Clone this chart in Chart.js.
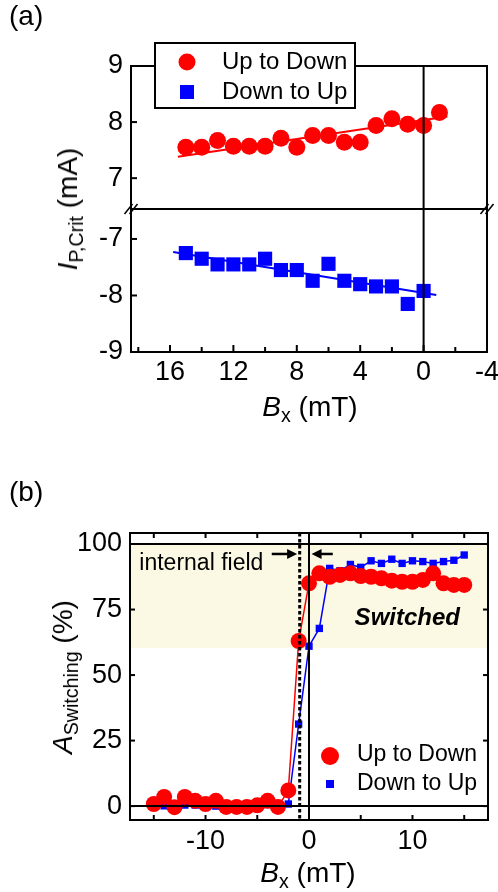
<!DOCTYPE html>
<html>
<head>
<meta charset="utf-8">
<script src="https://cdn.jsdelivr.net/npm/chart.js@4.4.0/dist/chart.umd.min.js"></script>
<style>
  html, body { margin: 0; padding: 0; background: #fff; }
  #wrap { position: relative; width: 498px; height: 892px;
          font-family: 'Liberation Sans', Arial, sans-serif; color: #000; }
  #chartA { display: block; }
  #chartB { position: absolute; left: 0; top: 440px; }
  .lbl { position: absolute; font-size: 28px; line-height: 1; white-space: nowrap; }
  .lbl sub { font-size: 0.7em; vertical-align: -0.3em; line-height: 0; }
  .ctr { transform: translate(-50%, -50%); }
  .rot { transform: translate(-50%, -50%) rotate(-90deg); }
</style>
</head>
<body>
<div id="wrap">
  <canvas id="chartA" width="498" height="430"></canvas>
  <canvas id="chartB" width="498" height="452"></canvas>
  <div class="lbl" style="left:9px;top:2px">(a)</div>
  <div class="lbl" style="left:9px;top:478px">(b)</div>
  <div class="lbl rot" style="left:68px;top:209px"><i>I</i><sub>P,Crit</sub> (mA)</div>
  <div class="lbl ctr" style="left:310px;top:407px"><i>B</i><sub>x</sub> (mT)</div>
  <div class="lbl rot" style="left:63px;top:677px"><i>A</i><sub>Switching</sub> (%)</div>
  <div class="lbl ctr" style="left:308px;top:873px"><i>B</i><sub>x</sub> (mT)</div>
</div>
<script>
// ---- panel (a): critical current vs Bx ----
const bxUpA   = [15, 14, 13, 12, 11, 10, 9, 8, 7, 6, 5, 4, 3, 2, 1, 0, -1];
const iUpA    = [7.55, 7.55, 7.67, 7.57, 7.57, 7.57, 7.71, 7.55, 7.76, 7.76, 7.64, 7.64, 7.94, 8.06, 7.96, 7.94, 8.17];
const bxDownA = [15, 14, 13, 12, 11, 10, 9, 8, 7, 6, 5, 4, 3, 2, 1, 0];
const iDownA  = [-7.25, -7.35, -7.45, -7.45, -7.45, -7.35, -7.55, -7.55, -7.74, -7.44, -7.74, -7.80, -7.84, -7.84, -8.15, -7.92];
const fitUpX = [15.5, -1.5], fitUpY = [7.38, 8.10];
const fitDownX = [15.8, -0.8], fitDownY = [-7.23, -7.99];
const xTicksA = [16, 12, 8, 4, 0, -4];
const xMinorA = [18, 14, 10, 6, 2, -2];
const yTicksTopA = [7, 8, 9];
const yTicksBotA = [-9, -8, -7];

// ---- panel (b): switching amplitude vs Bx ----
const bxB = [-15, -14, -13, -12, -11, -10, -9, -8, -7, -6, -5, -4, -3, -2, -1,
             0, 1, 2, 3, 4, 5, 6, 7, 8, 9, 10, 11, 12, 13, 14, 15];
const upB = [0.8, 3.5, -0.4, 3.5, 2, 0.8, 2, -0.3, -0.3, -0.3, 0.3, 2, -0.3, 6, 63,
             85, 88.8, 87.5, 88.2, 88.8, 87.8, 87.5, 86.9, 86.0, 85.6, 85.6, 86.3, 88.8, 85.0, 84.4, 84.4];
const downB = [0.1, 0.1, 0.4, 0.4, 0.4, 1.6, 0, 0.4, 0.6, 0.4, 1.3, 0.6, 1.0, 0.8, 31.3,
               61, 67.8, 90.7, 89.8, 92.2, 91.1, 93.6, 92.6, 94.2, 92.6, 93.6, 93.3, 92.6, 93.3, 93.8, 95.8];
const xTicksB = [-10, 0, 10];
const xMarksB = [-15, -10, -5, 0, 5, 10, 15];
const yTicksB = [0, 25, 50, 75, 100];
const bandB = [60.3, 100];      // "Switched" shaded range
const internalField = -0.9;

Chart.defaults.font.family = "'Liberation Sans', Arial, sans-serif";
Chart.defaults.color = '#000';

const pts = (xs, ys) => xs.map((x, i) => ({ x: x, y: ys[i] }));
function seg(ctx, x1, y1, x2, y2) {
  ctx.beginPath(); ctx.moveTo(x1, y1); ctx.lineTo(x2, y2); ctx.stroke();
}
function noPad(s) { s.paddingLeft = 0; s.paddingRight = 0; s.paddingTop = 0; s.paddingBottom = 0; }
function arrow(ctx, x1, x2, y) {
  const dir = x2 > x1 ? 1 : -1;
  ctx.lineWidth = 2.5;
  seg(ctx, x1, y, x2 - dir * 8, y);
  ctx.beginPath();
  ctx.moveTo(x2, y); ctx.lineTo(x2 - dir * 10, y - 5); ctx.lineTo(x2 - dir * 10, y + 5);
  ctx.closePath(); ctx.fill();
}

const panelA = {
  id: 'panelA',
  afterDraw(chart) {
    const ctx = chart.ctx;
    const x = chart.scales.x, yTop = chart.scales.yTop, yBot = chart.scales.yBot;
    const a = chart.chartArea;
    const L = a.left, R = a.right, T = a.top, B = a.bottom;
    const yb = yTop.bottom;
    ctx.save();
    ctx.fillStyle = '#000';
    ctx.strokeStyle = '#000';
    ctx.lineWidth = 2;
    ctx.strokeRect(L, T, R - L, B - T);
    const x0 = x.getPixelForValue(0);
    seg(ctx, x0, T, x0, B);
    seg(ctx, L, yb, R, yb);
    for (const v of xTicksA) { const p = x.getPixelForValue(v); ctx.fillRect(p - 1, B - 7, 2, 7); }
    for (const v of xMinorA) { const p = x.getPixelForValue(v); ctx.fillRect(p - 1, B - 5, 2, 5); }
    for (const v of yTicksTopA) { const p = yTop.getPixelForValue(v); ctx.fillRect(L, p - 1, 6, 2); }
    for (const v of yTicksBotA) { const p = yBot.getPixelForValue(v); ctx.fillRect(L, p - 1, 6, 2); }
    // axis break marks
    ctx.lineWidth = 1.5;
    for (const cx of [L, R]) {
      for (const d of [-2.5, 2.5]) seg(ctx, cx + d - 4, yb + 5, cx + d + 4, yb - 5);
    }
    // legend box
    const ds = chart.data.datasets;
    const lx = L + 24, ly = T - 23;
    ctx.fillStyle = '#fff';
    ctx.fillRect(lx, ly, 200, 65);
    ctx.lineWidth = 2;
    ctx.strokeRect(lx, ly, 200, 65);
    ctx.fillStyle = ds[2].backgroundColor;
    ctx.beginPath(); ctx.arc(lx + 32, ly + 19, 8.5, 0, Math.PI * 2); ctx.fill();
    ctx.fillStyle = ds[3].backgroundColor;
    ctx.fillRect(lx + 25, ly + 42, 14, 14);
    ctx.fillStyle = '#000';
    ctx.font = "24px 'Liberation Sans', Arial, sans-serif";
    ctx.textBaseline = 'middle';
    ctx.fillText(ds[2].label, lx + 67, ly + 19);
    ctx.fillText(ds[3].label, lx + 67, ly + 49);
    ctx.restore();
  }
};

new Chart(document.getElementById('chartA'), {
  type: 'scatter',
  data: {
    datasets: [
      { label: 'fit up', data: pts(fitUpX, fitUpY), showLine: true, borderColor: '#ff0000',
        borderWidth: 2, pointRadius: 0, yAxisID: 'yTop', clip: false },
      { label: 'fit down', data: pts(fitDownX, fitDownY), showLine: true, borderColor: '#0000ff',
        borderWidth: 2, pointRadius: 0, yAxisID: 'yBot', clip: false },
      { label: 'Up to Down', data: pts(bxUpA, iUpA), pointStyle: 'circle', pointRadius: 8.5,
        backgroundColor: '#ff0000', borderColor: '#ff0000', pointBorderWidth: 0, yAxisID: 'yTop', clip: false },
      { label: 'Down to Up', data: pts(bxDownA, iDownA), pointStyle: 'rect', pointRadius: 10,
        backgroundColor: '#0000ff', borderColor: '#0000ff', pointBorderWidth: 0, yAxisID: 'yBot', clip: false }
    ]
  },
  options: {
    responsive: false, animation: false, events: [],
    layout: { padding: { top: 66, right: 11, left: 0, bottom: 0 } },
    plugins: { legend: { display: false }, tooltip: { enabled: false } },
    scales: {
      x: {
        type: 'linear', reverse: true, min: -4, max: 18.46,
        grid: { display: false, drawTicks: false }, border: { display: false },
        afterBuildTicks: s => { s.ticks = xTicksA.map(v => ({ value: v })); },
        afterFit: s => { s.height = 78; noPad(s); },
        ticks: { font: { size: 27 }, padding: 4, maxRotation: 0, autoSkip: false, callback: v => String(v) }
      },
      yBot: {
        type: 'linear', position: 'left', stack: 'a', stackWeight: 1, min: -9, max: -6.47,
        grid: { display: false, drawTicks: false }, border: { display: false },
        afterBuildTicks: s => { s.ticks = yTicksBotA.map(v => ({ value: v })); },
        afterFit: s => { s.width = 131; noPad(s); },
        ticks: { font: { size: 27 }, padding: 8, callback: v => String(v) }
      },
      yTop: {
        type: 'linear', position: 'left', stack: 'a', stackWeight: 1, min: 6.45, max: 9,
        grid: { display: false, drawTicks: false }, border: { display: false },
        afterBuildTicks: s => { s.ticks = yTicksTopA.map(v => ({ value: v })); },
        afterFit: s => { s.width = 131; noPad(s); },
        ticks: { font: { size: 27 }, padding: 8, callback: v => String(v) }
      }
    }
  },
  plugins: [panelA]
});

const panelB = {
  id: 'panelB',
  beforeDatasetsDraw(chart) {
    const { ctx, chartArea: a, scales: { y } } = chart;
    const yt = y.getPixelForValue(bandB[1]), yb = y.getPixelForValue(bandB[0]);
    ctx.save();
    ctx.fillStyle = '#fbf8e3';
    ctx.fillRect(a.left, yt, a.right - a.left, yb - yt);
    ctx.restore();
  },
  afterDatasetsDraw(chart) {
    const { ctx, chartArea: a, scales: { x, y } } = chart;
    ctx.save();
    ctx.strokeStyle = '#000'; ctx.lineWidth = 2;
    for (const v of [0, 100]) { const p = y.getPixelForValue(v); seg(ctx, a.left, p, a.right, p); }
    const x0 = x.getPixelForValue(0);
    seg(ctx, x0, a.top, x0, a.bottom);
    ctx.strokeRect(a.left, a.top, a.right - a.left, a.bottom - a.top);
    for (const v of xMarksB) {
      const p = x.getPixelForValue(v);
      seg(ctx, p, a.bottom, p, a.bottom - 5);
      seg(ctx, p, a.top, p, a.top + 5);
    }
    for (const v of yTicksB) {
      const p = y.getPixelForValue(v);
      seg(ctx, a.left, p, a.left + 5, p);
      seg(ctx, a.right, p, a.right - 5, p);
    }
    // internal field marker
    const xf = x.getPixelForValue(internalField);
    ctx.lineWidth = 3; ctx.setLineDash([3.5, 2.5]);
    seg(ctx, xf, a.top, xf, a.bottom);
    ctx.setLineDash([]);
    ctx.fillStyle = '#000';
    const ya = y.getPixelForValue(96.2);
    arrow(ctx, x.getPixelForValue(-3.6), x.getPixelForValue(-1.15), ya);
    arrow(ctx, x.getPixelForValue(2.3), x.getPixelForValue(0.25), ya);
    ctx.textBaseline = 'middle';
    ctx.font = "23px 'Liberation Sans', Arial, sans-serif";
    ctx.fillText('internal field', x.getPixelForValue(-16.4), y.getPixelForValue(92.5));
    ctx.font = "italic bold 24px 'Liberation Sans', Arial, sans-serif";
    ctx.textAlign = 'center';
    ctx.fillText('Switched', x.getPixelForValue(9.5), y.getPixelForValue(71.5));
    // legend
    const ds = chart.data.datasets;
    const lx = a.left + 200;
    ctx.textAlign = 'left';
    ctx.fillStyle = ds[0].backgroundColor;
    ctx.beginPath(); ctx.arc(lx, a.top + 223, 9, 0, Math.PI * 2); ctx.fill();
    ctx.fillStyle = ds[1].backgroundColor;
    ctx.fillRect(lx - 4, a.top + 247, 8, 8);
    ctx.fillStyle = '#000';
    ctx.font = "23px 'Liberation Sans', Arial, sans-serif";
    ctx.fillText(ds[0].label, lx + 27, a.top + 222);
    ctx.fillText(ds[1].label, lx + 27, a.top + 251);
    ctx.restore();
  }
};

new Chart(document.getElementById('chartB'), {
  type: 'scatter',
  data: {
    datasets: [
      { label: 'Up to Down', data: pts(bxB, upB), showLine: true, borderColor: '#ff0000', borderWidth: 1.5,
        pointStyle: 'circle', pointRadius: 8, backgroundColor: '#ff0000', pointBorderWidth: 0, clip: false },
      { label: 'Down to Up', data: pts(bxB, downB), showLine: true, borderColor: '#0000ff', borderWidth: 1.5,
        pointStyle: 'rect', pointRadius: 5.2, backgroundColor: '#0000ff', pointBorderWidth: 0, clip: false }
    ]
  },
  options: {
    responsive: false, animation: false, events: [],
    layout: { padding: { top: 93, right: 10, left: 0, bottom: 0 } },
    plugins: { legend: { display: false }, tooltip: { enabled: false } },
    scales: {
      x: {
        type: 'linear', min: -17.3, max: 17.3,
        grid: { display: false, drawTicks: false }, border: { display: false },
        afterBuildTicks: s => { s.ticks = xTicksB.map(v => ({ value: v })); },
        afterFit: s => { s.height = 72; noPad(s); },
        ticks: { font: { size: 27 }, padding: 5, maxRotation: 0, autoSkip: false, callback: v => String(v) }
      },
      y: {
        type: 'linear', min: -5.3, max: 104.2,
        grid: { display: false, drawTicks: false }, border: { display: false },
        afterBuildTicks: s => { s.ticks = yTicksB.map(v => ({ value: v })); },
        afterFit: s => { s.width = 130; noPad(s); },
        ticks: { font: { size: 27 }, padding: 8, callback: v => String(v) }
      }
    }
  },
  plugins: [panelB]
});
</script>
</body>
</html>
